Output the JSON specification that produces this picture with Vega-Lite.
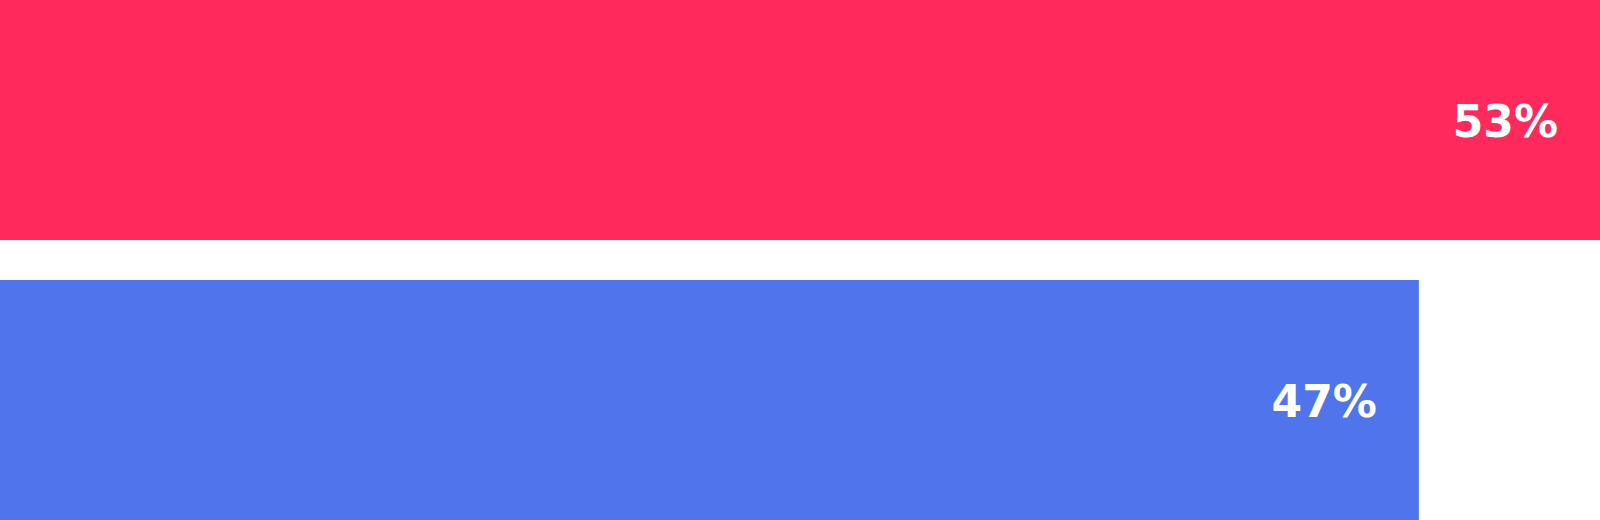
{
  "$schema": "https://vega.github.io/schema/vega-lite/v6.json",
  "width": 1600,
  "height": 520,
  "autosize": {"type": "fit", "contains": "padding"},
  "padding": 0,
  "data": {
    "values": [
      {"group": "A", "share": 53, "label": "53%"},
      {"group": "B", "share": 47, "label": "47%"}
    ]
  },
  "encoding": {
    "y": {
      "field": "group",
      "type": "nominal",
      "axis": null,
      "scale": {"paddingInner": 0.142857, "paddingOuter": 0}
    },
    "x": {
      "field": "share",
      "type": "quantitative",
      "axis": null,
      "scale": {"domain": [0, 53], "nice": false}
    }
  },
  "layer": [
    {
      "mark": {"type": "bar"},
      "encoding": {
        "color": {
          "field": "group",
          "type": "nominal",
          "legend": null,
          "scale": {"domain": ["A", "B"], "range": ["#FF2A5B", "#4F74EB"]}
        }
      }
    },
    {
      "mark": {
        "type": "text",
        "align": "right",
        "baseline": "middle",
        "dx": -42,
        "dy": 4,
        "font": "DejaVu Sans",
        "fontWeight": "bold",
        "fontSize": 44,
        "color": "white"
      },
      "encoding": {"text": {"field": "label"}}
    }
  ],
  "config": {"view": {"stroke": null}}
}
